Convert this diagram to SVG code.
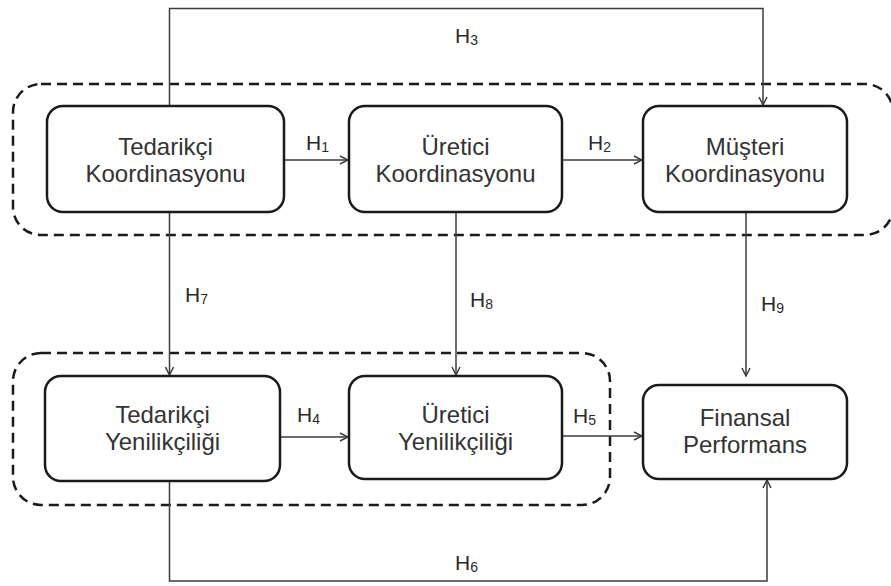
<svg xmlns="http://www.w3.org/2000/svg" width="891" height="586" viewBox="0 0 891 586">
<defs>
<style>
.grp{fill:none;stroke:#1a1a1a;stroke-width:2.5;stroke-dasharray:10 6}
.box{fill:#fff;stroke:#1a1a1a;stroke-width:2.5}
.lbl{font-family:"Liberation Sans",Arial,sans-serif;font-size:24px;fill:#333;text-anchor:middle}
.h{font-family:"Liberation Sans",Arial,sans-serif;font-size:21px;fill:#2a2a2a}
.sub{font-size:14px}
.con{fill:none;stroke:#3c3c3c;stroke-width:1.5}
</style>
<marker id="arr" viewBox="0 0 10 10" refX="9" refY="5" markerWidth="10" markerHeight="10" markerUnits="userSpaceOnUse" orient="auto">
<path d="M1,1 L9,5 L1,9" fill="none" stroke="#3c3c3c" stroke-width="1.5"/>
</marker>
</defs>
<rect width="891" height="586" fill="#fff"/>
<g id="groups">
<rect class="grp" x="13" y="84" width="880" height="151" rx="28"/>
<rect class="grp" x="13" y="353" width="597" height="152" rx="28"/>
</g>
<g id="connectors">
<path class="con" d="M169.5,106 V8.5 H763 V105" marker-end="url(#arr)"/>
<path class="con" d="M284,160 H348" marker-end="url(#arr)"/>
<path class="con" d="M562,160 H642" marker-end="url(#arr)"/>
<path class="con" d="M169.5,212 V375" marker-end="url(#arr)"/>
<path class="con" d="M456,212 V375" marker-end="url(#arr)"/>
<path class="con" d="M746,212 V376" marker-end="url(#arr)"/>
<path class="con" d="M280,437 H348" marker-end="url(#arr)"/>
<path class="con" d="M562,436 H642" marker-end="url(#arr)"/>
<path class="con" d="M169.5,481 V581 H767 V480" marker-end="url(#arr)"/>
<text class="h" x="455" y="43">H<tspan class="sub" dy="2">3</tspan></text>
<text class="h" x="306" y="150">H<tspan class="sub" dy="2">1</tspan></text>
<text class="h" x="588" y="150">H<tspan class="sub" dy="2">2</tspan></text>
<text class="h" x="185" y="302">H<tspan class="sub" dy="2">7</tspan></text>
<text class="h" x="470" y="307">H<tspan class="sub" dy="2">8</tspan></text>
<text class="h" x="761" y="311">H<tspan class="sub" dy="2">9</tspan></text>
<text class="h" x="297" y="422">H<tspan class="sub" dy="2">4</tspan></text>
<text class="h" x="573" y="423">H<tspan class="sub" dy="2">5</tspan></text>
<text class="h" x="455" y="570">H<tspan class="sub" dy="2">6</tspan></text>
</g>
<g id="tedarikci-koordinasyonu">
<rect class="box" x="47" y="106" width="237" height="106" rx="16"/>
<text class="lbl" x="165.5" y="155">Tedarikçi</text>
<text class="lbl" x="165.5" y="182">Koordinasyonu</text>
</g>
<g id="uretici-koordinasyonu">
<rect class="box" x="349" y="106" width="213" height="106" rx="16"/>
<text class="lbl" x="455.5" y="155">Üretici</text>
<text class="lbl" x="455.5" y="182">Koordinasyonu</text>
</g>
<g id="musteri-koordinasyonu">
<rect class="box" x="643" y="106" width="204" height="106" rx="16"/>
<text class="lbl" x="745" y="155">Müşteri</text>
<text class="lbl" x="745" y="182">Koordinasyonu</text>
</g>
<g id="tedarikci-yenilikciligi">
<rect class="box" x="45" y="376" width="235" height="105" rx="16"/>
<text class="lbl" x="162.5" y="423">Tedarikçi</text>
<text class="lbl" x="162.5" y="450">Yenilikçiliği</text>
</g>
<g id="uretici-yenilikciligi">
<rect class="box" x="349" y="376" width="213" height="103" rx="16"/>
<text class="lbl" x="455.5" y="423">Üretici</text>
<text class="lbl" x="455.5" y="450">Yenilikçiliği</text>
</g>
<g id="finansal-performans">
<rect class="box" x="643" y="385" width="204" height="94" rx="16"/>
<text class="lbl" x="745" y="426">Finansal</text>
<text class="lbl" x="745" y="453">Performans</text>
</g>
</svg>
